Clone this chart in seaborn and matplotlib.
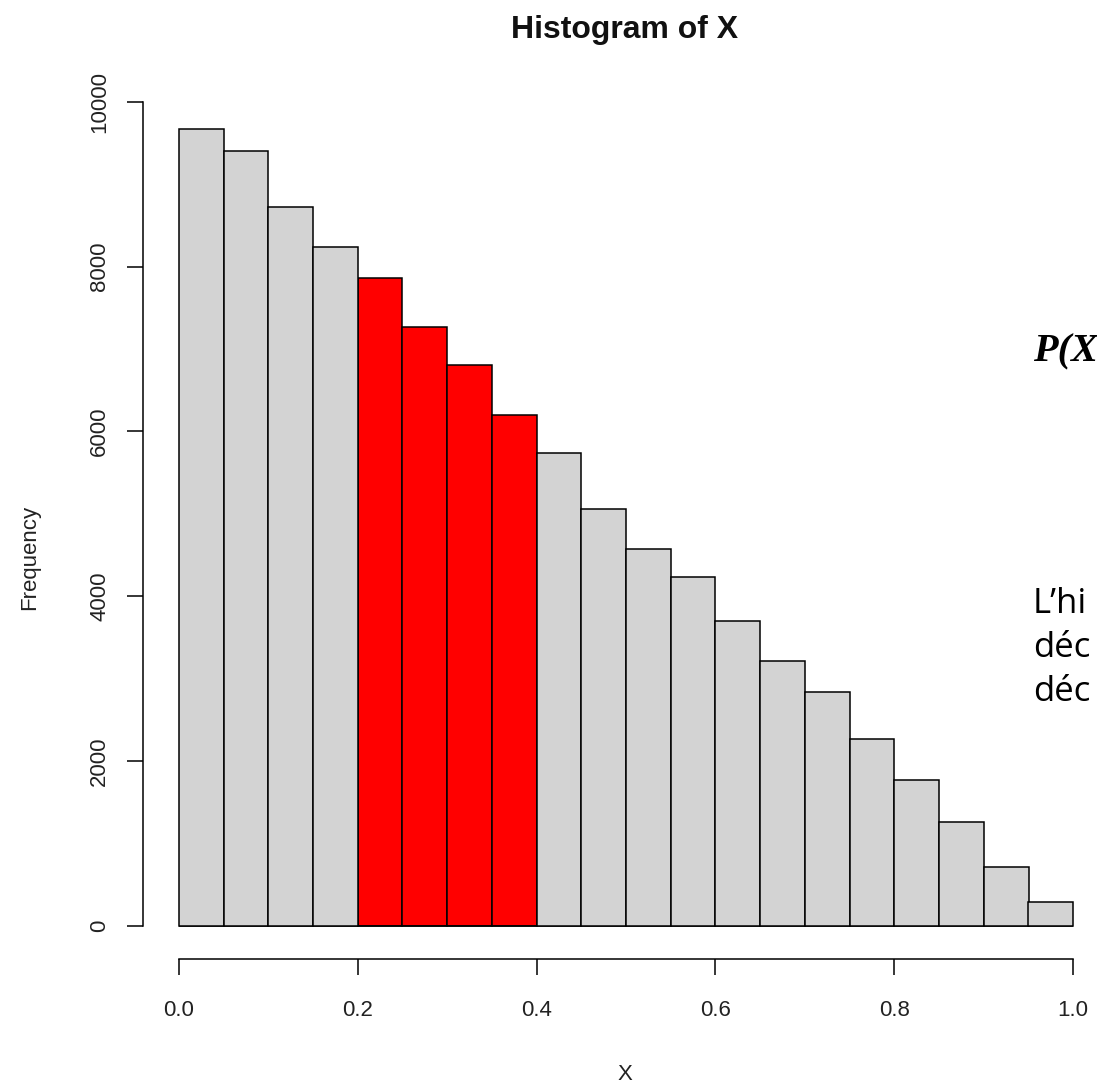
import numpy as np
import pandas as pd
import matplotlib
matplotlib.use("Agg")
import matplotlib.pyplot as plt
import seaborn as sns

# Histogram bin edges and the frequency of each bin
bin_edges = [0.00, 0.05, 0.10, 0.15, 0.20, 0.25, 0.30, 0.35, 0.40, 0.45, 0.50,
             0.55, 0.60, 0.65, 0.70, 0.75, 0.80, 0.85, 0.90, 0.95, 1.00]
counts = [9670, 9400, 8720, 8240, 7860, 7270, 6810, 6200, 5740, 5060,
          4570, 4230, 3700, 3220, 2840, 2270, 1770, 1260, 720, 290]

# Interval whose bins are filled in red
highlight_low, highlight_high = 0.2, 0.4

x_ticks = [0.0, 0.2, 0.4, 0.6, 0.8, 1.0]
x_tick_labels = ["0.0", "0.2", "0.4", "0.6", "0.8", "1.0"]
y_ticks = [0, 2000, 4000, 6000, 8000, 10000]
y_tick_labels = ["0", "2000", "4000", "6000", "8000", "10000"]

title_text = "Histogram of X"
x_label = "X"
y_label = "Frequency"
prob_text = "P(X"
note_lines = ["L’hi", "déc", "déc"]

sns.set_theme(style="white")
plt.rcParams["font.family"] = ["Liberation Sans", "DejaVu Sans"]

mids = [(a + b) / 2 for a, b in zip(bin_edges[:-1], bin_edges[1:])]
df = pd.DataFrame({"X": mids, "n": counts})
df["zone"] = np.where((df["X"] > highlight_low) & (df["X"] < highlight_high), "in", "out")

W, H = 1097, 1091
fig = plt.figure(figsize=(W / 100, H / 100), dpi=100)
ax = fig.add_axes([143 / W, 1 - 959 / H, 966 / W, 890.3 / H])

sns.histplot(data=df, x="X", weights="n", bins=bin_edges, hue="zone",
             palette={"out": "#d3d3d3", "in": "#ff0000"}, alpha=1,
             edgecolor="black", linewidth=1.1, legend=False,
             multiple="layer", ax=ax)

ax.set_xlim(-0.04, 1.04)
ax.set_ylim(-400, 10400)
ax.grid(False)
for side in ("top", "right"):
    ax.spines[side].set_visible(False)
ax.spines["left"].set_bounds(0, 10000)
ax.spines["bottom"].set_bounds(0, 1)
for side in ("left", "bottom"):
    ax.spines[side].set_color("black")
    ax.spines[side].set_linewidth(1.1)

ax.set_xticks(x_ticks, x_tick_labels)
ax.set_yticks(y_ticks, y_tick_labels)
ax.tick_params(axis="both", which="major", direction="out", length=11.5,
               width=1.1, color="black", labelsize=16, labelcolor="#222222",
               bottom=True, left=True)
ax.tick_params(axis="x", pad=18)
ax.tick_params(axis="y", pad=12)
for lab in ax.get_yticklabels():
    lab.set_rotation(90)
    lab.set_va("center")

ax.set_xlabel(x_label, fontsize=16, color="#222222")
ax.set_ylabel(y_label, fontsize=16, color="#222222")
ax.xaxis.set_label_coords((625 - 143) / 966, (959 - 1075) / 890.3)
ax.xaxis.label.set_va("center")
ax.yaxis.set_label_coords((30 - 143) / 966, (959 - 557) / 890.3)
ax.yaxis.label.set_va("center")

fig.text(625 / W, 1 - 30 / H, title_text, ha="center", va="center",
         fontsize=23, fontweight="bold", color="#111111")

# Side annotations
fig.text(1033 / W, 1 - 352 / H, prob_text, ha="left", va="center",
         fontsize=29, fontweight="bold", fontstyle="italic",
         family=["Liberation Serif", "DejaVu Serif"], color="black")
for i, line in enumerate(note_lines):
    fig.text(1033 / W, 1 - (604 + 44 * i) / H, line, ha="left", va="center",
             fontsize=25, family=["Open Sans", "DejaVu Sans"], color="black")

fig.savefig("out.png", dpi=100)
